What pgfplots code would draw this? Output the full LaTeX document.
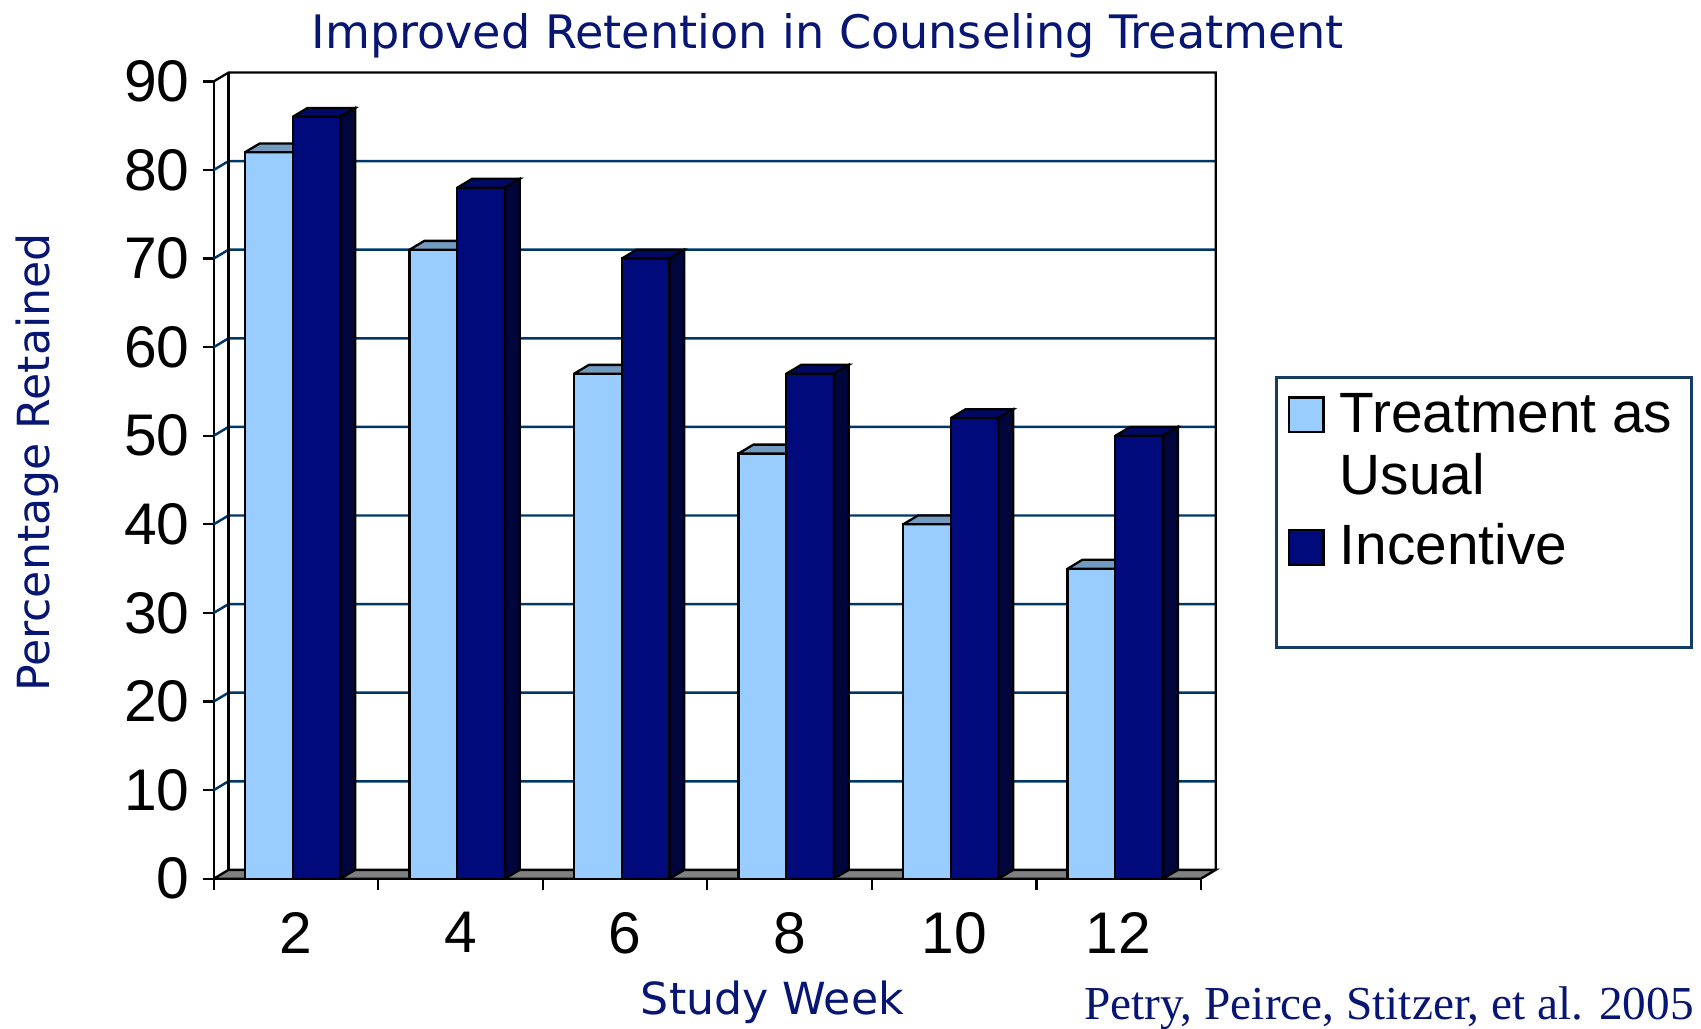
\documentclass[border=0pt]{standalone}
\usepackage{pgfplots}
\usepackage{pgfplotstable}
\pgfplotsset{compat=1.18}
\usepackage{fontspec}
\setmainfont{Liberation Sans}
\newfontfamily\dejavu{DejaVu Sans}
\newfontfamily\timesf{Liberation Serif}

\definecolor{tau}{RGB}{153,204,255}
\definecolor{tautop}{RGB}{115,155,192}
\definecolor{inc}{RGB}{0,10,123}
\definecolor{inctop}{RGB}{0,10,100}
\definecolor{incside}{RGB}{0,5,60}
\definecolor{gridb}{RGB}{0,55,105}
\definecolor{navytext}{RGB}{8,22,115}
\definecolor{legendb}{RGB}{20,60,100}

% legend squares; the first entry has two lines, so its square sits one line higher
\pgfplotsset{
  sqlegend/.style={legend image code/.code={%
    \draw[##1, line width=0.6pt] (0pt,0pt) rectangle (9.1pt,9.1pt);}},
  sqlegendup/.style={legend image code/.code={%
    \draw[##1, line width=0.6pt] (0pt,16.2pt) rectangle (9.1pt,25.3pt);}},
}

% week index, treatment as usual, incentive
\pgfplotstableread{
x tau inc
0 82 86
1 71 78
2 57 70
3 48 57
4 40 52
5 35 50
}\datatable

\begin{document}
\begin{tikzpicture}
\useasboundingbox (-56.05pt,-39.26pt) rectangle ++(446.1pt,269.71pt);
\begin{axis}[
    at={(0pt,0pt)}, anchor=south west,
    scale only axis,
    width=258.9pt, height=209.1pt,
    xmin=-0.5, xmax=5.5, ymin=0, ymax=90,
    clip=false,
    axis x line*=bottom, axis y line*=left,
    axis line style={black, line width=0.6pt},
    tick align=outside,
    major tick length=2.85pt,
    tick style={black, line width=0.6pt},
    ytick={0,10,...,90},
    xtick={-0.5,0.5,...,5.5},
    xticklabels={},
    extra x ticks={0,1,2,3,4,5},
    extra x tick labels={2,4,6,8,10,12},
    extra x tick style={major tick length=0pt, tick style={draw=none},
        xticklabel style={yshift=-5.2pt}},
    /pgf/number format/assume math mode=true,
    ticklabel style={font=\fontsize{15.4}{17}\selectfont, text=black},
    title={\dejavu Improved Retention in Counseling Treatment},
    title style={at={(axis description cs:0.622,1.012)}, anchor=base,
        font=\fontsize{12.1}{14}\selectfont, text=navytext},
    xlabel={\dejavu Study Week},
    xlabel style={at={(axis description cs:0.566,-0.170)}, anchor=base,
        font=\fontsize{11.6}{14}\selectfont, text=navytext},
    ylabel={\dejavu Percentage Retained},
    ylabel style={at={(axis description cs:-0.166,0.522)}, anchor=base,
        font=\fontsize{11.6}{14}\selectfont, text=navytext},
    legend style={at={(1.0747,0.630)}, anchor=north west,
        draw=legendb, line width=0.8pt, fill=white,
        font=\fontsize{14.9}{16.2}\selectfont,
        cells={anchor=base west, align=left},
        /tikz/every odd column/.append style={column sep=2pt},
        inner xsep=3pt, inner ysep=2pt, row sep=2.3pt},
]

% back wall grid lines
\pgfplotsforeachungrouped \v in {10,20,...,80}{
    \pgfmathsetmacro\vd{\v+1}
    \edef\temp{\noexpand\addplot[forget plot, gridb, line width=0.65pt]
        coordinates {(-0.5,\v) (-0.41,\vd) (5.59,\vd)};}
    \temp
}
% back wall frame
\addplot[forget plot, black, line width=0.6pt] coordinates {(-0.5,90) (-0.41,91) (5.59,91) (5.59,1)};
\addplot[forget plot, black, line width=0.6pt] coordinates {(-0.41,1) (-0.41,91)};
% floor
\addplot[forget plot, fill=gray, draw=black, line width=0.6pt]
    coordinates {(-0.5,0) (5.5,0) (5.59,1) (-0.41,1) (-0.5,0)};

% treatment as usual
\addplot[ybar, bar width=0.29, bar shift=-0.165, fill=tau, draw=black, line width=0.6pt, sqlegendup]
    table[x=x, y=tau] {\datatable};
\addlegendentry{Treatment as\\Usual}
\pgfplotsforeachungrouped \r in {0,...,5}{
    \pgfplotstablegetelem{\r}{tau}\of\datatable
    \let\vt\pgfplotsretval
    \pgfmathsetmacro\xa{\r-0.31}
    \pgfmathsetmacro\xb{\r-0.02}
    \pgfmathsetmacro\xad{\xa+0.09}
    \pgfmathsetmacro\xbd{\xb+0.09}
    \pgfmathsetmacro\vtd{\vt+1}
    \edef\temp{\noexpand\addplot[forget plot, fill=tautop, draw=black, line width=0.6pt]
        coordinates {(\xa,\vt) (\xad,\vtd) (\xbd,\vtd) (\xb,\vt) (\xa,\vt)};}
    \temp
}

% incentive
\addplot[ybar, bar width=0.29, bar shift=0.125, fill=inc, draw=black, line width=0.6pt, sqlegend]
    table[x=x, y=inc] {\datatable};
\addlegendentry{Incentive}
\pgfplotsforeachungrouped \r in {0,...,5}{
    \pgfplotstablegetelem{\r}{inc}\of\datatable
    \let\vt\pgfplotsretval
    \pgfmathsetmacro\xa{\r-0.02}
    \pgfmathsetmacro\xb{\r+0.27}
    \pgfmathsetmacro\xad{\xa+0.09}
    \pgfmathsetmacro\xbd{\xb+0.09}
    \pgfmathsetmacro\vtd{\vt+1}
    \edef\temp{\noexpand\addplot[forget plot, fill=inctop, draw=black, line width=0.6pt]
        coordinates {(\xa,\vt) (\xad,\vtd) (\xbd,\vtd) (\xb,\vt) (\xa,\vt)};}
    \temp
    \edef\temp{\noexpand\addplot[forget plot, fill=incside, draw=black, line width=0.6pt]
        coordinates {(\xb,0) (\xbd,1) (\xbd,\vtd) (\xb,\vt) (\xb,0)};}
    \temp
}
\addlegendimage{empty legend}
\addlegendentry{\rule{0pt}{8.3pt}}

\node[anchor=base east, inner sep=0pt, font=\timesf\fontsize{12.4}{14}\selectfont, text=navytext]
    at (axis description cs:1.5,-0.1765) {Petry, Peirce, Stitzer, et al. 2005};
\end{axis}
\end{tikzpicture}
\end{document}
